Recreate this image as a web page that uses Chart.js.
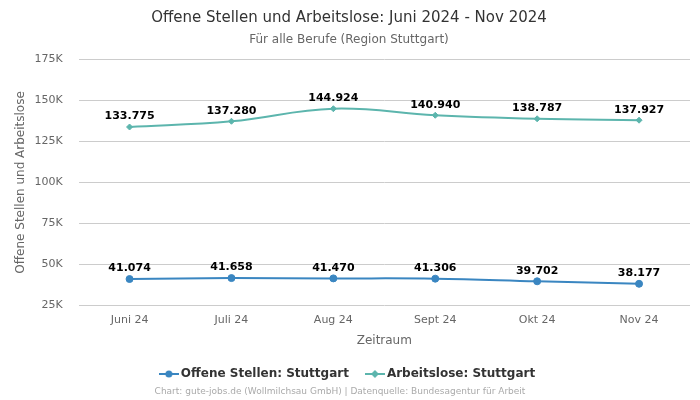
<!DOCTYPE html>
<html>
<head>
<meta charset="utf-8">
<script src="https://cdn.jsdelivr.net/npm/chart.js@4.4.0/dist/chart.umd.min.js"></script>
<style>
  html, body { margin: 0; padding: 0; background: #fff; }
  #wrap { width: 700px; height: 400px; position: relative; }
</style>
</head>
<body>
<div id="wrap"><canvas id="c" width="700" height="400"></canvas></div>
<script>
const months = ["Juni 24", "Juli 24", "Aug 24", "Sept 24", "Okt 24", "Nov 24"];
const offeneStellen = [41074, 41658, 41470, 41306, 39702, 38177];
const arbeitslose = [133775, 137280, 144924, 140940, 138787, 137927];

const blue = "#3a86c1";
const teal = "#5cb5ad";
const font = "'DejaVu Sans', sans-serif";

const fmt = (v) => v.toLocaleString("de-DE");

// legend marker: line with point in the middle
function legendIcon(color, style) {
    const cv = document.createElement("canvas");
    cv.width = 20; cv.height = 10;
    const c = cv.getContext("2d");
    c.strokeStyle = color;
    c.lineWidth = 2;
    c.beginPath(); c.moveTo(0, 5); c.lineTo(20, 5); c.stroke();
    c.fillStyle = color;
    c.beginPath();
    if (style === "circle") {
        c.arc(10, 5, 3.5, 0, Math.PI * 2);
    } else {
        c.moveTo(10, 1); c.lineTo(14, 5); c.lineTo(10, 9); c.lineTo(6, 5); c.closePath();
    }
    c.fill();
    return cv;
}

const valueLabels = {
    id: "valueLabels",
    afterDatasetsDraw(chart) {
        const ctx = chart.ctx;
        ctx.save();
        ctx.font = `bold 11px ${font}`;
        ctx.fillStyle = "#000";
        ctx.textAlign = "center";
        ctx.textBaseline = "bottom";
        chart.data.datasets.forEach((ds, i) => {
            chart.getDatasetMeta(i).data.forEach((pt, j) => {
                ctx.fillText(fmt(ds.data[j]), pt.x, pt.y - 5);
            });
        });
        ctx.restore();
    }
};

const footer = {
    id: "footer",
    afterDraw(chart) {
        const ctx = chart.ctx;
        ctx.save();
        ctx.font = `9px ${font}`;
        ctx.fillStyle = "#aaa";
        ctx.textAlign = "center";
        ctx.textBaseline = "middle";
        ctx.fillText("Chart: gute-jobs.de (Wollmilchsau GmbH) | Datenquelle: Bundesagentur für Arbeit", 340, 392);
        ctx.restore();
    }
};

new Chart(document.getElementById("c"), {
    type: "line",
    data: {
        labels: months,
        datasets: [
            {
                label: "Offene Stellen: Stuttgart",
                data: offeneStellen,
                borderColor: blue,
                backgroundColor: blue,
                borderWidth: 2,
                pointStyle: "circle",
                pointRadius: 3.5,
                pointBorderWidth: 1,
                tension: 0.4,
            },
            {
                label: "Arbeitslose: Stuttgart",
                data: arbeitslose,
                borderColor: teal,
                backgroundColor: teal,
                borderWidth: 2,
                pointStyle: "rectRot",
                pointRadius: 3,
                pointBorderWidth: 1,
                tension: 0.4,
            },
        ],
    },
    options: {
        responsive: false,
        animation: false,
        layout: { padding: { left: 8, right: 10, bottom: 10 } },
        scales: {
            x: {
                offset: true,
                grid: { display: false },
                border: { display: false },
                ticks: { color: "#666", padding: 0, font: { family: font, size: 11 } },
                title: { display: true, text: "Zeitraum", color: "#666", padding: { top: 7, bottom: 0 }, font: { family: font, size: 12 } },
            },
            y: {
                min: 25000,
                max: 175000,
                border: { display: false },
                grid: { color: "#cccccc", drawTicks: false },
                ticks: {
                    stepSize: 25000,
                    color: "#666",
                    padding: 16,
                    font: { family: font, size: 11 },
                    callback: (v) => (v / 1000) + "K",
                },
                title: { display: true, text: "Offene Stellen und Arbeitslose", color: "#666", padding: { top: 6, bottom: -10 }, font: { family: font, size: 12 } },
            },
        },
        plugins: {
            title: {
                display: true,
                text: "Offene Stellen und Arbeitslose: Juni 2024 - Nov 2024",
                color: "#333",
                font: { family: font, size: 15, weight: "normal" },
                padding: { top: 9, bottom: 6 },
            },
            subtitle: {
                display: true,
                text: "Für alle Berufe (Region Stuttgart)",
                color: "#666",
                font: { family: font, size: 12 },
                padding: { bottom: 12 },
            },
            legend: {
                position: "bottom",
                labels: {
                    usePointStyle: true,
                    color: "#333",
                    padding: 20,
                    font: { family: font, size: 12, weight: "bold" },
                    generateLabels(chart) {
                        return chart.data.datasets.map((ds, i) => ({
                            text: ds.label,
                            pointStyle: legendIcon(ds.borderColor, i === 0 ? "circle" : "diamond"),
                            fontColor: "#333",
                            datasetIndex: i,
                            hidden: false,
                        }));
                    },
                },
            },
            tooltip: { enabled: false },
        },
    },
    plugins: [valueLabels, footer],
});
</script>
</body>
</html>
